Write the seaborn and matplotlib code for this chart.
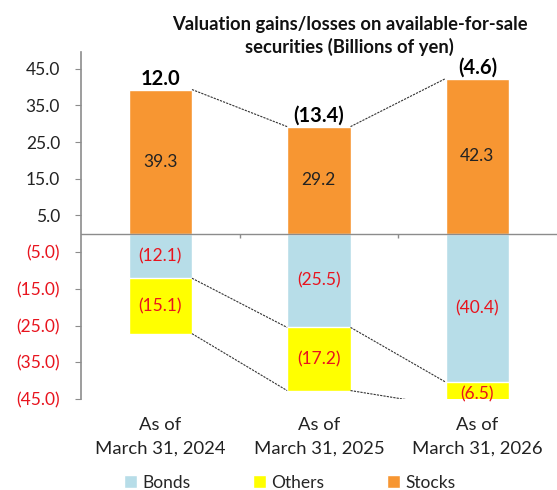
import matplotlib
matplotlib.use("Agg")
import matplotlib.pyplot as plt
import seaborn as sns
import numpy as np
import pandas as pd

# data (billions of yen)
dates = ["As of\nMarch 31, 2024", "As of\nMarch 31, 2025", "As of\nMarch 31, 2026"]
stocks = [39.3, 29.2, 42.3]
bonds = [-12.1, -25.5, -40.4]
others = [-15.1, -17.2, -6.5]
totals = ["12.0", "(13.4)", "(4.6)"]
yticks = [45, 35, 25, 15, 5, -5, -15, -25, -35, -45]

df = pd.DataFrame({"date": dates, "Stocks": stocks, "Bonds": bonds, "Others": others})
df["neg_total"] = df["Bonds"] + df["Others"]

def fmt(v):
    return f"({abs(v):.1f})" if v < 0 else f"{v:.1f}"

sns.set_style("white")
plt.rcParams["font.family"] = ["Lato", "DejaVu Sans"]

fig = plt.figure(figsize=(5.57, 4.90), dpi=100)
ax = fig.add_axes([0.1454, 0.1857, 0.854, 0.708])

orange = "#F79632"
blue = "#B7DDE8"
yellow = "#FFFF00"
red = "#E8141E"

w = 0.4
sns.barplot(data=df, x="date", y="neg_total", color=yellow, width=w, saturation=1,
            label="Others", ax=ax)
sns.barplot(data=df, x="date", y="Bonds", color=blue, width=w, saturation=1,
            label="Bonds", ax=ax)
sns.barplot(data=df, x="date", y="Stocks", color=orange, width=w, saturation=1,
            label="Stocks", ax=ax)
if ax.get_legend() is not None:
    ax.get_legend().remove()

ax.set_ylim(-45, 49.5)
ax.set_xlim(-0.5, 2.5)

# connector lines between bars
for series in [df["Stocks"], df["Bonds"], df["neg_total"]]:
    for i in range(len(series) - 1):
        ax.plot([i + w / 2, i + 1 - w / 2], [series[i], series[i + 1]],
                color="#333333", lw=0.8, ls=(0, (2, 1)), zorder=1)

# value labels
for i in range(len(df)):
    ax.text(i, stocks[i] / 2, fmt(stocks[i]), ha="center", va="center", fontsize=12.5, color="#222222")
    ax.text(i, bonds[i] / 2, fmt(bonds[i]), ha="center", va="center", fontsize=12.5, color=red)
    ax.text(i, bonds[i] + others[i] / 2, fmt(others[i]), ha="center", va="center", fontsize=12.5, color=red)
    ax.text(i, stocks[i] + 0.2, totals[i], ha="center", va="bottom", fontsize=14.5, fontweight="bold", color="black")

# zero line and category boundary ticks
ax.axhline(0, color="#8c8c8c", lw=1, zorder=3)
ax.vlines([0.5, 1.5], -1.2, 0, color="#8c8c8c", lw=1)

ax.set_yticks(yticks)
ax.set_yticklabels([fmt(v) for v in yticks], fontsize=12.5)
for lab, v in zip(ax.get_yticklabels(), yticks):
    lab.set_color(red if v < 0 else "#222222")
ax.tick_params(axis="y", left=True, length=4, color="#8c8c8c", pad=11)
ax.tick_params(axis="x", length=0, pad=13, labelsize=13.3, labelcolor="#222222")
for t in ax.get_xticklabels():
    t.set_linespacing(1.55)
ax.set_xlabel("")
ax.set_ylabel("")

for s in ["top", "right", "bottom"]:
    ax.spines[s].set_visible(False)
ax.spines["left"].set_color("#8c8c8c")
ax.spines["left"].set_linewidth(1.2)

fig.text(0.628, 0.926, "Valuation gains/losses on available-for-sale\nsecurities (Billions of yen)",
         ha="center", va="center", fontsize=13.2, fontweight="bold", linespacing=1.3, color="#111111")

h, l = ax.get_legend_handles_labels()
order = [l.index("Bonds"), l.index("Others"), l.index("Stocks")]
fig.legend([h[k] for k in order], [l[k] for k in order], loc="center", bbox_to_anchor=(0.52, 0.015),
           ncol=3, frameon=False, fontsize=12.5, handlelength=0.75, handleheight=0.75,
           handletextpad=0.3, columnspacing=3.6)

fig.savefig("out.png", dpi=100)
